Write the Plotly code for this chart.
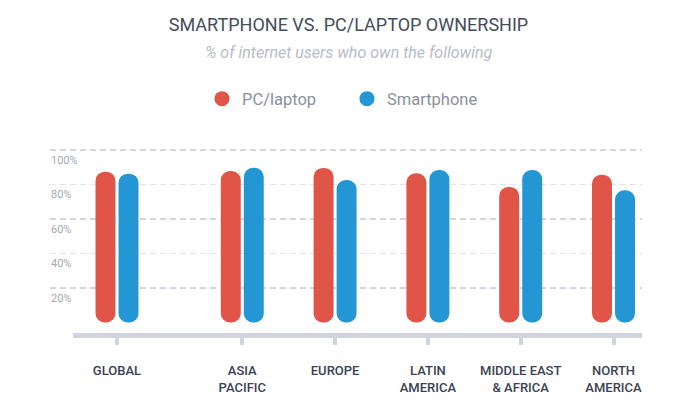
import plotly.graph_objects as go

categories = ["GLOBAL", "ASIA<br>PACIFIC", "EUROPE", "LATIN<br>AMERICA", "MIDDLE EAST<br>& AFRICA", "NORTH<br>AMERICA"]
pc_laptop = [87.4, 87.8, 89.6, 86.5, 78.6, 85.7]
smartphone = [86.3, 89.7, 82.6, 88.4, 88.4, 76.6]
y_ticks = [20, 40, 60, 80, 100]
y_tick_labels = ["20%", "40%", "60%", "80%", "100%"]

# layout: category centre positions (uneven gap after GLOBAL)
group_pos = [0, 1.35, 2.35, 3.35, 4.35, 5.35]
BAR_W = 0.215
OFF = 0.124

RED = "#e05548"
BLUE = "#2496d4"
AXIS = "#d1d4dc"
FONT = "Roboto"

fig = go.Figure()

def rounded_bars(values, offset, color, name, legend):
    xs = [p + offset for p in group_pos]
    fig.add_trace(go.Bar(x=xs, y=values, base=[0] * len(values),
                         width=BAR_W,
                         marker=dict(color=color, cornerradius="50%", line=dict(width=0)),
                         showlegend=False, hoverinfo="skip"))
    fig.add_trace(go.Scatter(x=[None], y=[None], mode="markers", name=name, legend=legend,
                             marker=dict(color=color, size=15, symbol="circle")))

rounded_bars(pc_laptop, -OFF, RED, "PC/laptop", "legend")
rounded_bars(smartphone, OFF, BLUE, "Smartphone", "legend2")

GRID_X0 = -0.0404
shapes = []
for t in y_ticks:
    dark = (t // 20) % 2 == 1
    shapes.append(dict(type="line", xref="paper", yref="y", x0=GRID_X0, x1=1.0, y0=t, y1=t,
                       line=dict(color="#a7abbe" if dark else "#e3e4e7", width=1, dash="6px,4px"),
                       layer="below"))

annotations = []
for t, lab in zip(y_ticks, y_tick_labels):
    annotations.append(dict(xref="paper", yref="y", x=GRID_X0 - 0.002, y=t, text=lab, showarrow=False,
                            xanchor="left", yanchor="middle", yshift=-10,
                            font=dict(family=FONT, size=11, color="#a3a7b3")))

annotations.append(dict(xref="paper", yref="paper", x=0.485, y=1.527, xanchor="center", yanchor="middle",
                        text="<i>% of internet users who own the following</i>", showarrow=False,
                        font=dict(family=FONT, size=16, color="#b9bcc6")))

legend_common = dict(orientation="h", yref="container", y=0.776, yanchor="middle", xanchor="left",
                     font=dict(family=FONT, size=16.5, color="#8b909a"), bgcolor="rgba(0,0,0,0)")

fig.update_layout(
    width=700, height=406,
    paper_bgcolor="white", plot_bgcolor="white",
    margin=dict(l=65, r=66, t=141, b=81),
    barmode="overlay",
    title=dict(
        text="SMARTPHONE VS. PC/LAPTOP OWNERSHIP",
        x=0.4864, xanchor="center", xref="container", y=0.958, yanchor="middle", yref="container",
        font=dict(family=FONT, size=18, color="#454c5a"),
    ),
    legend=dict(x=0.2267, **legend_common),
    legend2=dict(x=0.4815, **legend_common),
    shapes=shapes,
    annotations=annotations,
    showlegend=True,
)

fig.update_xaxes(
    range=[-0.474, 5.657], tickvals=group_pos, ticktext=categories,
    showgrid=False, zeroline=False,
    showline=True, linecolor=AXIS, linewidth=5,
    ticks="outside", ticklen=7, tickwidth=4, tickcolor=AXIS,
    ticklabelstandoff=14,
    tickfont=dict(family=FONT, size=13, color="#3b4252", weight=500),
    fixedrange=True,
)
fig.update_yaxes(range=[-6.09, 100.58], showgrid=False, zeroline=False, showticklabels=False,
                 showline=False, fixedrange=True)

fig.write_html("out.html")
